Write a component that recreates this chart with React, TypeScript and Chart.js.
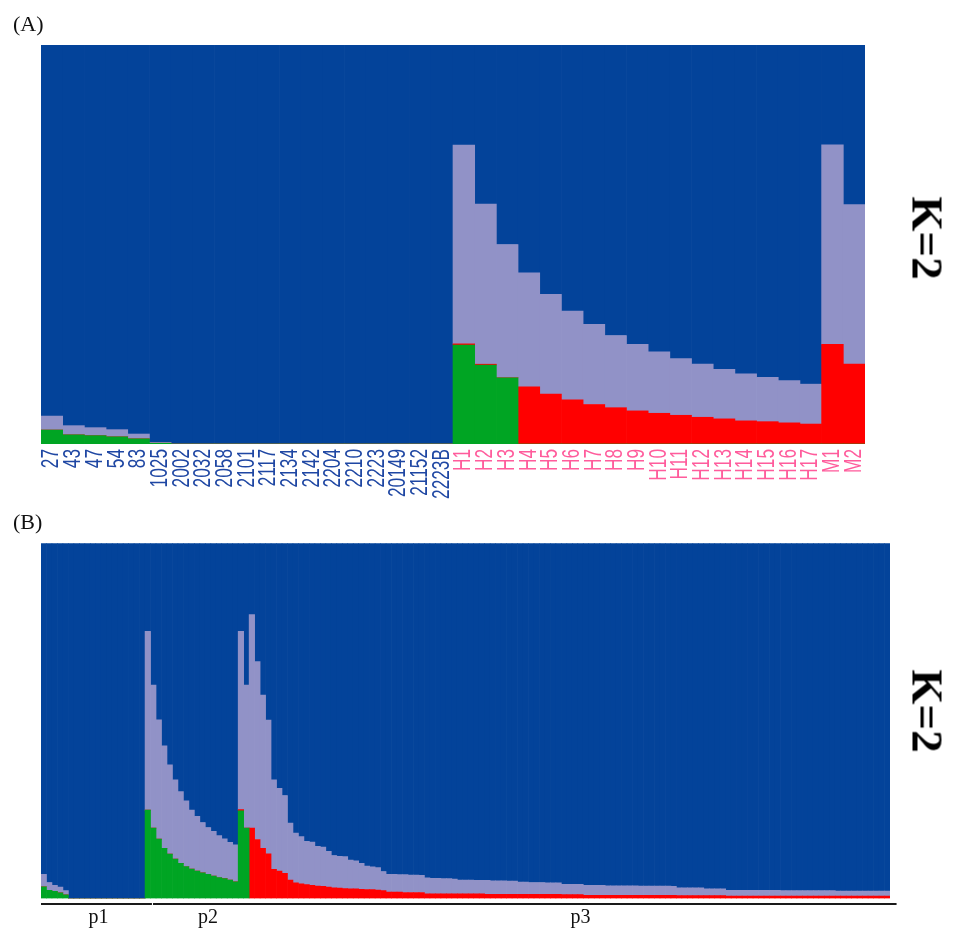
import React, { useEffect, useRef } from 'react';
import { Chart, registerables, CategoryScale } from 'chart.js';

Chart.register(...registerables);

// ---------------- Panel (A) data ----------------
const labelsA = [
  '27', '43', '47', '54', '83', '1025', '2002', '2032', '2058', '2101', '2117', '2134', '2142',
  '2204', '2210', '2223', '20149', '21152', '2223B',
  'H1', 'H2', 'H3', 'H4', 'H5', 'H6', 'H7', 'H8', 'H9', 'H10', 'H11', 'H12', 'H13', 'H14', 'H15',
  'H16', 'H17', 'M1', 'M2',
];
const greenA = [
  0.035, 0.023, 0.021, 0.018, 0.013, 0.002,
  0, 0, 0, 0, 0, 0, 0, 0, 0, 0, 0, 0, 0,
  0.248, 0.198, 0.166,
  0, 0, 0, 0, 0, 0, 0, 0, 0, 0, 0, 0, 0, 0,
  0, 0,
];
const redA = [
  0, 0, 0, 0, 0, 0, 0, 0, 0, 0, 0, 0, 0, 0, 0, 0, 0, 0, 0,
  0.003, 0.002, 0,
  0.143, 0.125, 0.111, 0.099, 0.091, 0.083, 0.077, 0.072, 0.067, 0.063, 0.058, 0.056, 0.053, 0.050,
  0.250, 0.200,
];
const lavA = [
  0.035, 0.023, 0.020, 0.018, 0.012, 0.002,
  0, 0, 0, 0, 0, 0, 0, 0, 0, 0, 0, 0, 0,
  0.498, 0.401, 0.334, 0.286, 0.250, 0.222, 0.201, 0.181, 0.167, 0.154, 0.142, 0.133, 0.124, 0.118,
  0.111, 0.106, 0.100,
  0.500, 0.400,
];

// ---------------- Panel (B) data (155 individuals) ----------------
const countB = 155;
const groupLabelsB = [
  { text: 'p1', index: 10 },
  { text: 'p2', index: 30 },
  { text: 'p3', index: 98 },
];
// bracket lines under the groups, in bar-index units
const groupBracketsB = [
  [-0.5, 19.75],
  [19.95, 155.7],
];
const greenB = [
  0.033, 0.023, 0.020, 0.016, 0.010,
  0, 0, 0, 0, 0, 0, 0, 0, 0, 0, 0, 0, 0, 0,
  0.249, 0.198, 0.167, 0.141, 0.125, 0.111, 0.099, 0.090, 0.083, 0.077, 0.072, 0.068, 0.063, 0.059,
  0.056, 0.052, 0.047,
  0.247, 0.198,
];
const redB = [
  0, 0, 0, 0, 0, 0, 0, 0, 0, 0, 0, 0, 0, 0, 0, 0, 0, 0, 0, 0, 0, 0, 0, 0, 0, 0, 0, 0, 0, 0, 0, 0, 0, 0, 0, 0,
  0.003, 0,
  0.198, 0.166, 0.141, 0.126, 0.082, 0.077, 0.071, 0.052, 0.044, 0.041,
  0.039, 0.037, 0.035, 0.034, 0.032, 0.030, 0.029, 0.028, 0.027, 0.027,
  0.026, 0.025, 0.025, 0.024, 0.022, 0.018, 0.018, 0.018, 0.017, 0.017,
  0.017, 0.017,
  0.013, 0.013, 0.013, 0.013, 0.013, 0.013,
  0.013, 0.013, 0.013, 0.013, 0.013, 0.012, 0.012, 0.012, 0.012, 0.012, 0.012,
  0.012, 0.012, 0.012, 0.012, 0.012, 0.012, 0.012, 0.012,
  0.011, 0.011, 0.011, 0.011,
  0.009, 0.009, 0.009, 0.009, 0.009, 0.009, 0.009, 0.009, 0.009, 0.009, 0.009, 0.009, 0.009, 0.009,
  0.009, 0.009, 0.009,
  0.008, 0.008, 0.008, 0.008, 0.008, 0.008, 0.008, 0.008, 0.008,
  0.007, 0.007, 0.007, 0.007, 0.007, 0.007, 0.007, 0.007, 0.007, 0.007,
  0.007, 0.007, 0.007, 0.007, 0.007, 0.007, 0.007, 0.007, 0.007, 0.007,
  0.007, 0.007, 0.007, 0.007, 0.007, 0.007, 0.007, 0.007, 0.007, 0.007,
];
const lavB = [
  0.035, 0.022, 0.017, 0.016, 0.012,
  0, 0, 0, 0, 0, 0, 0, 0, 0, 0, 0, 0, 0, 0,
  0.503, 0.403, 0.336, 0.289, 0.251, 0.223, 0.202, 0.185, 0.166, 0.154, 0.142, 0.132, 0.126, 0.118,
  0.112, 0.106, 0.104,
  0.502, 0.403,
  0.601, 0.501, 0.432, 0.376, 0.252, 0.233, 0.219, 0.160, 0.140, 0.133,
  0.122, 0.122, 0.112, 0.111, 0.101, 0.091, 0.090, 0.090, 0.081, 0.079,
  0.073, 0.066, 0.064, 0.063, 0.054, 0.050, 0.050, 0.049, 0.050, 0.049,
  0.049, 0.048,
  0.045, 0.044, 0.044, 0.043, 0.043, 0.042,
  0.039, 0.039, 0.039, 0.038, 0.038, 0.039, 0.038, 0.038, 0.038, 0.037, 0.037,
  0.034, 0.034, 0.033, 0.033, 0.033, 0.032, 0.032, 0.032,
  0.029, 0.029, 0.029, 0.029,
  0.028, 0.028, 0.028, 0.028, 0.027, 0.027, 0.027, 0.027, 0.027, 0.027, 0.026, 0.026, 0.026, 0.026,
  0.026, 0.026, 0.025,
  0.022, 0.022, 0.022, 0.022, 0.022,
  0.019, 0.019, 0.019, 0.019,
  0.016, 0.016, 0.016, 0.016, 0.016, 0.016, 0.016, 0.016, 0.016, 0.016,
  0.015, 0.015, 0.015, 0.015, 0.015, 0.015, 0.015, 0.015, 0.015, 0.015,
  0.014, 0.014, 0.014, 0.014, 0.014, 0.014, 0.014, 0.014, 0.014, 0.014,
];

const COLORS = {
  blue: '#03439a',
  lav: '#9192c7',
  green: '#00a523',
  red: '#ff0000',
  labelWild: '#1f47a3',
  labelHybrid: '#ff5c9c',
};

// rotated tick labels in the reference are condensed along their reading direction
const LABEL_CONDENSE = 0.72;

class CondensedCategoryScale extends (CategoryScale as any) {
  drawLabels(chartArea: any) {
    const ctx = (this as any).ctx;
    const y0 = (this as any).top + ((this as any).options.ticks.padding || 0);
    ctx.save();
    ctx.translate(0, y0);
    ctx.scale(1, LABEL_CONDENSE);
    ctx.translate(0, -y0);
    super.drawLabels(chartArea);
    ctx.restore();
  }
}
(CondensedCategoryScale as any).id = 'condensedCategory';
(CondensedCategoryScale as any).defaults = (CategoryScale as any).defaults;
Chart.register(CondensedCategoryScale as any);

// remaining membership (cluster 1) = 1 - other components
function remainder(n: number, ...parts: number[][]) {
  return Array.from({ length: n }, (_, i) =>
    Math.max(0, 1 - parts.reduce((s, p) => s + (p[i] ?? 0), 0))
  );
}

function makeDatasets(n: number, green: number[], red: number[], lav: number[]) {
  const common = { barPercentage: 1, categoryPercentage: 1, borderWidth: 0 };
  return [
    { label: 'green', data: green, backgroundColor: COLORS.green, ...common },
    { label: 'red', data: red, backgroundColor: COLORS.red, ...common },
    { label: 'lavender', data: lav, backgroundColor: COLORS.lav, ...common },
    { label: 'blue', data: remainder(n, green, red, lav), backgroundColor: COLORS.blue, ...common },
  ];
}

const bracketPlugin = {
  id: 'groupBrackets',
  afterDraw(chart: any, _args: any, opts: any) {
    if (!opts || !opts.segments) return;
    const xs = chart.scales.x;
    const ctx = chart.ctx;
    const y = chart.chartArea.bottom + opts.gap;
    ctx.save();
    ctx.strokeStyle = opts.color;
    ctx.lineWidth = opts.width;
    for (const [a, b] of opts.segments) {
      ctx.beginPath();
      ctx.moveTo(xs.getPixelForValue(a), y);
      ctx.lineTo(xs.getPixelForValue(b), y);
      ctx.stroke();
    }
    ctx.restore();
  },
};

function configA(): any {
  const isHybrid = labelsA.map((l) => /^[HM]/.test(l));
  return {
    type: 'bar',
    data: { labels: labelsA, datasets: makeDatasets(labelsA.length, greenA, redA, lavA) },
    options: {
      animation: false,
      responsive: false,
      devicePixelRatio: 1,
      events: [],
      layout: { padding: { top: 45, left: 41, right: 88, bottom: 0 } },
      plugins: { legend: { display: false }, tooltip: { enabled: false } },
      scales: {
        x: {
          type: 'condensedCategory',
          stacked: true,
          grid: { display: false, drawTicks: false },
          border: { display: false },
          ticks: {
            autoSkip: false,
            maxRotation: 90,
            minRotation: 90,
            padding: 5,
            color: (c: any) => (isHybrid[c.index] ? COLORS.labelHybrid : COLORS.labelWild),
            font: { family: '"Liberation Sans", Arial, sans-serif', size: 24 },
          },
          afterFit(scale: any) {
            scale.height = 76;
            scale.paddingLeft = 0;
            scale.paddingRight = 0;
          },
        },
        y: { stacked: true, display: false, min: 0, max: 1 },
      },
    },
  };
}

function configB(): any {
  const labelsB = Array.from({ length: countB }, (_, i) => {
    const g = groupLabelsB.find((gl) => gl.index === i);
    return g ? g.text : '';
  });
  return {
    type: 'bar',
    data: { labels: labelsB, datasets: makeDatasets(countB, greenB, redB, lavB) },
    plugins: [bracketPlugin],
    options: {
      animation: false,
      responsive: false,
      devicePixelRatio: 1,
      events: [],
      layout: { padding: { top: 38.3, left: 41, right: 63, bottom: 0 } },
      plugins: {
        legend: { display: false },
        tooltip: { enabled: false },
        groupBrackets: { segments: groupBracketsB, gap: 5.5, color: '#1a1a1a', width: 2 },
      },
      scales: {
        x: {
          stacked: true,
          grid: { display: false, drawTicks: false },
          border: { display: false },
          ticks: {
            autoSkip: false,
            maxRotation: 0,
            minRotation: 0,
            padding: 7,
            color: '#111',
            font: { family: '"Liberation Serif", "Times New Roman", serif', size: 20 },
          },
          afterFit(scale: any) {
            scale.height = 30.5;
            scale.paddingLeft = 0;
            scale.paddingRight = 0;
          },
        },
        y: { stacked: true, display: false, min: 0, max: 1 },
      },
    },
  };
}

function ChartCanvas({ make, width, height, top }: { make: () => any; width: number; height: number; top: number }) {
  const ref = useRef<HTMLCanvasElement>(null);
  useEffect(() => {
    const chart = new Chart(ref.current as HTMLCanvasElement, make());
    return () => chart.destroy();
  }, []);
  return (
    <canvas
      ref={ref}
      width={width}
      height={height}
      style={{ position: 'absolute', left: 0, top, width, height, display: 'block' }}
    />
  );
}

const panelTag: React.CSSProperties = {
  position: 'absolute',
  fontFamily: '"Liberation Serif", "Times New Roman", serif',
  fontSize: 22,
  lineHeight: 1,
  color: '#111',
  whiteSpace: 'nowrap',
};

const kTag: React.CSSProperties = {
  position: 'absolute',
  fontFamily: '"Liberation Serif", "Times New Roman", serif',
  fontWeight: 'bold',
  fontSize: 45,
  lineHeight: 1,
  color: '#000',
  whiteSpace: 'nowrap',
  transform: 'translate(-50%, -50%) rotate(90deg)',
};

export default function App() {
  return (
    <div style={{ position: 'absolute', left: 0, top: 0, width: 953, height: 929, background: '#fff', overflow: 'hidden' }}>
      <ChartCanvas make={configA} width={953} height={520} top={0} />
      <ChartCanvas make={configB} width={953} height={424} top={505} />
      <div style={{ ...panelTag, left: 13, top: 13 }}>(A)</div>
      <div style={{ ...panelTag, left: 13, top: 511 }}>(B)</div>
      <div style={{ ...kTag, left: 926.5, top: 237.5 }}>K=2</div>
      <div style={{ ...kTag, left: 926.5, top: 710.5 }}>K=2</div>
    </div>
  );
}
